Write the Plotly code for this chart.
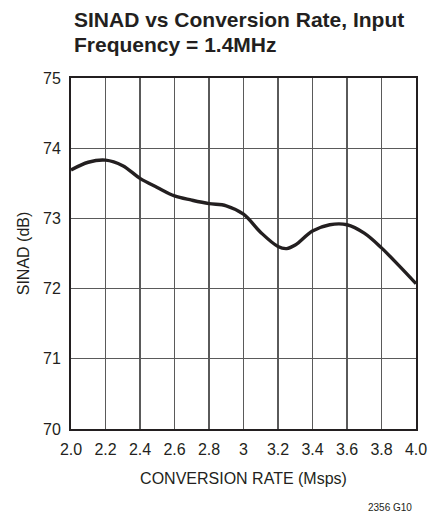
import plotly.graph_objects as go

# Data
rate_msps = [2.0, 2.1, 2.2, 2.3, 2.4, 2.5, 2.6, 2.7, 2.8, 2.9, 3.0, 3.1, 3.2, 3.25,
             3.3, 3.4, 3.5, 3.6, 3.7, 3.8, 3.9, 4.0]
sinad_db = [73.69, 73.80, 73.83, 73.75, 73.57, 73.44, 73.32, 73.26, 73.21, 73.18, 73.06,
            72.80, 72.60, 72.57, 72.62, 72.82, 72.91, 72.91, 72.79, 72.58, 72.33, 72.07]

x_tickvals = [2.0, 2.2, 2.4, 2.6, 2.8, 3.0, 3.2, 3.4, 3.6, 3.8, 4.0]
x_ticktext = ["2.0", "2.2", "2.4", "2.6", "2.8", "3", "3.2", "3.4", "3.6", "3.8", "4.0"]
y_tickvals = [70, 71, 72, 73, 74, 75]

title_lines = ["SINAD vs Conversion Rate, Input", "Frequency = 1.4MHz"]
x_title = "CONVERSION RATE (Msps)"
y_title = "SINAD (dB)"
footnote = "2356 G10"

FONT = "Liberation Sans, Arial, sans-serif"
INK = "#231f20"
GRID = "#5a5a5a"

fig = go.Figure()
fig.add_trace(go.Scatter(
    x=rate_msps, y=sinad_db, mode="lines",
    line=dict(color=INK, width=3.4, shape="spline", smoothing=1.0),
    hoverinfo="skip", showlegend=False,
))

W, H = 439, 519
L, R, T, B = 71, 15, 78, 90
ph = H - T - B

def ypaper(px):
    return (H - B - px) / ph

annotations = [
    dict(text=f"<b>{title_lines[0]}</b>", xref="paper", yref="paper",
         x=0.003, y=ypaper(19), xanchor="left", yanchor="middle", showarrow=False,
         font=dict(family=FONT, size=21, color=INK)),
    dict(text=f"<b>{title_lines[1]}</b>", xref="paper", yref="paper",
         x=0.003, y=ypaper(45), xanchor="left", yanchor="middle", showarrow=False,
         font=dict(family=FONT, size=21, color=INK)),
    dict(text=footnote, xref="paper", yref="paper",
         x=(422 - L) / (W - L - R), y=ypaper(507), xanchor="right", yanchor="middle",
         showarrow=False, font=dict(family=FONT, size=10, color=INK)),
]

fig.update_layout(
    width=W, height=H,
    margin=dict(l=L, r=R, t=T, b=B),
    paper_bgcolor="white", plot_bgcolor="white",
    font=dict(family=FONT, color=INK),
    annotations=annotations,
    hovermode=False,
    xaxis=dict(
        range=[2.0, 4.0], tickvals=x_tickvals, ticktext=x_ticktext,
        showgrid=True, gridcolor=GRID, gridwidth=1.2,
        showline=True, linecolor=INK, linewidth=2, mirror=True,
        ticks="", ticklabelstandoff=5, zeroline=False, fixedrange=True,
        tickfont=dict(family=FONT, size=16, color=INK),
        title=dict(text=x_title, font=dict(family=FONT, size=16, color=INK), standoff=16),
    ),
    yaxis=dict(
        range=[70, 75], tickvals=y_tickvals,
        showgrid=True, gridcolor=GRID, gridwidth=1.2,
        showline=True, linecolor=INK, linewidth=2, mirror=True,
        ticks="", ticklabelstandoff=5, zeroline=False, fixedrange=True,
        tickfont=dict(family=FONT, size=16, color=INK),
        title=dict(text=y_title, font=dict(family=FONT, size=16, color=INK), standoff=9),
    ),
)

fig.write_html(
    "out.html",
    config={"displayModeBar": False, "staticPlot": True},
    post_script="document.body.style.margin='0';document.body.style.overflow='hidden';",
)
